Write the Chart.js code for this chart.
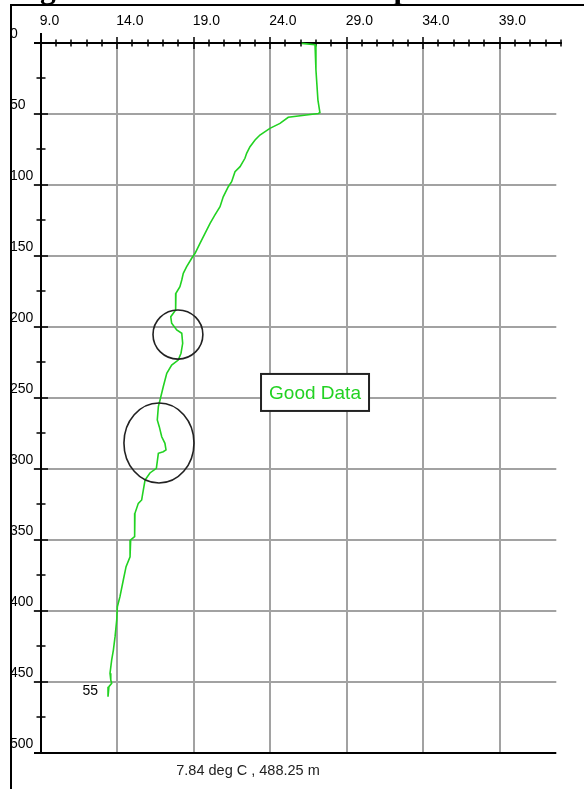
<!DOCTYPE html>
<html>
<head>
<meta charset="utf-8">
<script src="https://cdn.jsdelivr.net/npm/chart.js@4"></script>
<style>
  html, body { margin: 0; padding: 0; background: #fff; }
  #wrap { position: relative; width: 584px; height: 789px; }
</style>
</head>
<body>
<div id="wrap"><canvas id="profile" width="584" height="789"></canvas></div>
<script>
// temperature (deg C) against depth (m), top of the cast first
const temperature = [26.06, 26.93, 26.99, 27.12, 27.25, 27.14, 25.18, 24.64, 23.98, 23.33,
  23.01, 22.68, 22.46, 22.35, 22.03, 21.70, 21.48, 21.26, 20.93, 20.72,
  20.39, 20.07, 19.74, 19.41, 19.09, 18.87, 18.54, 18.32, 18.22, 18.10,
  17.84, 17.82, 17.50, 17.56, 17.89, 18.22, 18.28, 18.17, 17.99, 17.56,
  17.24, 17.01, 16.80, 16.69, 16.62, 16.75, 16.91, 17.12, 17.19, 17.01,
  16.69, 16.56, 16.14, 15.82, 15.67, 15.60, 15.38, 15.16, 15.12, 15.16,
  14.88, 14.84, 14.58, 14.40, 14.18, 14.01, 13.97, 13.86, 13.75, 13.64,
  13.53, 13.58, 13.64, 13.46, 13.40];
const depth = [0.5, 1.4, 19.2, 40.4, 49.2, 49.9, 52.5, 56.8, 60.3, 65.0,
  68.5, 73.2, 77.9, 81.4, 87.3, 90.8, 97.9, 101.4, 108.5, 115.5,
  121.3, 127.2, 134.2, 141.3, 148.3, 151.8, 157.7, 162.4, 167.1, 171.8,
  176.5, 188.2, 193.0, 197.6, 202.3, 204.6, 211.7, 218.7, 223.5, 227.0,
  232.8, 242.3, 251.6, 256.3, 265.7, 270.4, 277.5, 282.1, 286.8, 288.0,
  289.2, 299.7, 303.0, 308.0, 317.3, 322.0, 324.4, 331.4, 340.8, 347.9,
  350.2, 362.0, 369.0, 378.4, 390.1, 397.2, 406.5, 418.3, 427.7, 434.7,
  444.1, 448.8, 451.1, 453.5, 460.6];

const xTicks = [9.0, 14.0, 19.0, 24.0, 29.0, 34.0, 39.0];
const xTickLabels = ['9.0', '14.0', '19.0', '24.0', '29.0', '34.0', '39.0'];
const yTicks = [0, 50, 100, 150, 200, 250, 300, 350, 400, 450, 500];
const yTickLabels = ['0', '50', '100', '150', '200', '250', '300', '350', '400', '450', '500'];

const titleText = 'Figure 5. Good Data: A Temperature Profile';
const noteText = 'Good Data';
const castLabel = '55';
const readout = '7.84 deg C , 488.25 m';

const GREEN = 'rgb(34,210,34)';
const GRID = '#a2a2a2';

// suspect layers, ellipses in data units
const rings = [
  { t: 17.97, d: 205.5, rt: 1.63, rd: 17.3 },
  { t: 16.73, d: 281.9, rt: 2.29, rd: 28.2 }
];

const frame = {
  id: 'frame',
  beforeDatasetsDraw(chart) {
    const { ctx, chartArea: a, scales: { x, y } } = chart;
    ctx.save();
    // grid
    ctx.strokeStyle = GRID;
    ctx.lineWidth = 2;
    xTicks.slice(1).forEach(v => {
      const px = Math.round(x.getPixelForValue(v));
      ctx.beginPath(); ctx.moveTo(px, a.top); ctx.lineTo(px, a.bottom); ctx.stroke();
    });
    yTicks.slice(1, -1).forEach(v => {
      const py = Math.round(y.getPixelForValue(v));
      ctx.beginPath(); ctx.moveTo(a.left - 7, py); ctx.lineTo(a.right, py); ctx.stroke();
    });

    // axes
    ctx.strokeStyle = '#000';
    ctx.lineWidth = 2;
    const top = Math.round(y.getPixelForValue(0));
    const left = Math.round(x.getPixelForValue(9));
    const bottom = Math.round(y.getPixelForValue(500));
    ctx.beginPath();
    ctx.moveTo(left - 7, top); ctx.lineTo(x.getPixelForValue(43) + 1, top);
    ctx.moveTo(left, top - 10); ctx.lineTo(left, bottom);
    ctx.moveTo(left - 7, bottom); ctx.lineTo(a.right, bottom);
    ctx.stroke();

    // top ticks, one per degree
    ctx.lineWidth = 1.5;
    for (let v = 9; v <= 43; v++) {
      const px = Math.round(x.getPixelForValue(v));
      const len = (v - 9) % 5 === 0 ? 6 : 3.5;
      ctx.beginPath(); ctx.moveTo(px, top - len); ctx.lineTo(px, top + len); ctx.stroke();
    }
    // left ticks, every 25 m
    for (let v = 0; v <= 500; v += 25) {
      const py = Math.round(y.getPixelForValue(v));
      const len = v % 50 === 0 ? 7 : 4.5;
      ctx.beginPath(); ctx.moveTo(left - len, py); ctx.lineTo(left + len, py); ctx.stroke();
    }

    // tick labels
    ctx.fillStyle = '#000';
    ctx.font = '14px "Liberation Sans", Arial, sans-serif';
    ctx.textBaseline = 'middle';
    ctx.textAlign = 'left';
    xTicks.forEach((v, i) => {
      ctx.fillText(xTickLabels[i], x.getPixelForValue(v) - 1, 21);
    });
    yTicks.forEach((v, i) => {
      ctx.fillText(yTickLabels[i], 10, y.getPixelForValue(v) - 9);
    });
    ctx.restore();
  },
  afterDatasetsDraw(chart) {
    const { ctx, scales: { x, y } } = chart;
    ctx.save();

    // rings round the suspect layers
    ctx.strokeStyle = '#222';
    ctx.lineWidth = 1.6;
    rings.forEach(r => {
      const cx = x.getPixelForValue(r.t);
      const cy = y.getPixelForValue(r.d);
      const rx = x.getPixelForValue(r.t + r.rt) - cx;
      const ry = y.getPixelForValue(r.d + r.rd) - cy;
      ctx.beginPath(); ctx.ellipse(cx, cy, rx, ry, 0, 0, Math.PI * 2); ctx.stroke();
    });

    // note box
    const bx = x.getPixelForValue(26.93), by = y.getPixelForValue(246.3);
    ctx.fillStyle = '#fff';
    ctx.fillRect(bx - 54, by - 18.5, 108, 37);
    ctx.strokeStyle = '#222';
    ctx.lineWidth = 2;
    ctx.strokeRect(bx - 54, by - 18.5, 108, 37);
    ctx.fillStyle = GREEN;
    ctx.font = '19px "Liberation Sans", Arial, sans-serif';
    ctx.textAlign = 'center';
    ctx.textBaseline = 'middle';
    ctx.fillText(noteText, bx, by + 1);

    // cast number next to the last sample
    const n = temperature.length - 1;
    ctx.fillStyle = '#000';
    ctx.font = '14px "Liberation Sans", Arial, sans-serif';
    ctx.textAlign = 'right';
    ctx.fillText(castLabel, x.getPixelForValue(temperature[n]) - 10, y.getPixelForValue(depth[n]) - 6);

    // cursor readout
    ctx.fillStyle = '#222';
    ctx.font = '14.5px "Liberation Sans", Arial, sans-serif';
    ctx.textAlign = 'center';
    ctx.fillText(readout, 248, 771);

    // page frame and clipped heading
    ctx.strokeStyle = '#000';
    ctx.lineWidth = 2;
    ctx.beginPath();
    ctx.moveTo(11, 789); ctx.lineTo(11, 5); ctx.lineTo(584, 5);
    ctx.stroke();
    ctx.fillStyle = '#000';
    ctx.font = 'bold 31.5px "Liberation Serif", "Times New Roman", serif';
    ctx.textAlign = 'left';
    ctx.textBaseline = 'alphabetic';
    ctx.fillText(titleText, 12, -2.5);
    ctx.restore();
  }
};

new Chart(document.getElementById('profile'), {
  type: 'line',
  data: {
    datasets: [{
      label: 'Temperature',
      data: temperature.map((t, i) => ({ x: t, y: depth[i] })),
      borderColor: GREEN,
      borderWidth: 1.6,
      pointRadius: 0,
      tension: 0,
      fill: false,
      clip: 6
    }]
  },
  options: {
    responsive: false,
    animation: false,
    layout: { padding: { left: 40.7, top: 42.7, right: 27.7, bottom: 36.3 } },
    scales: {
      x: { type: 'linear', min: 9, max: 42.7, display: false },
      y: { type: 'linear', min: 0, max: 500, reverse: true, display: false }
    },
    plugins: { legend: { display: false }, tooltip: { enabled: false } }
  },
  plugins: [frame]
});
</script>
</body>
</html>
